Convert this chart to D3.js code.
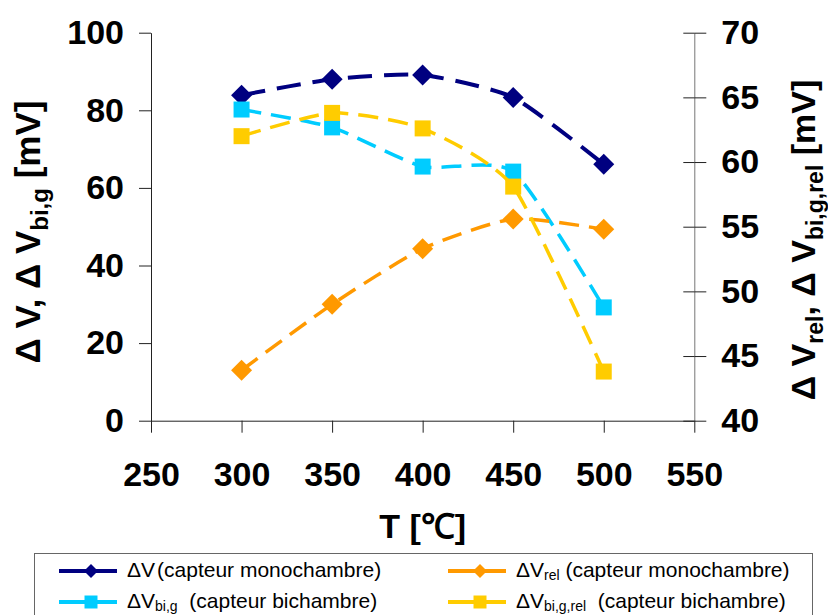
<!DOCTYPE html>
<html><head><meta charset="utf-8">
<script src="https://cdn.jsdelivr.net/npm/d3@7"></script>
<style>body{margin:0;background:#fff}svg{display:block}text{font-family:"Liberation Sans",Arial,sans-serif}</style>
</head><body><svg id="c" width="828" height="615"></svg>
<script>
const temps = [300, 350, 400, 450, 500];
const dV = [83.9, 88.0, 89.1, 83.3, 66.1];          // left axis
const dVbig = [80.2, 75.6, 65.5, 64.2, 29.2];       // left axis
const dVrel = [43.9, 49.0, 53.3, 55.6, 54.8];       // right axis
const dVbigrel = [62.0, 63.8, 62.6, 58.1, 43.8];    // right axis
const xTicks = [250, 300, 350, 400, 450, 500, 550];
const yLeftTicks = [0, 20, 40, 60, 80, 100];
const yRightTicks = [40, 45, 50, 55, 60, 65, 70];

const svg = d3.select("#c");
const x = d3.scaleLinear().domain([250, 550]).range([151, 694.3]);
const yL = d3.scaleLinear().domain([0, 100]).range([420.7, 32.7]);
const yR = d3.scaleLinear().domain([40, 70]).range([420.7, 32.7]);

const tickFont = g => g.selectAll("text").attr("font-size", 34).attr("font-weight", "bold").attr("fill", "#000")
  .attr("font-family", '"Liberation Sans",Arial,sans-serif');

// left axis
const gl = svg.append("g").attr("transform", `translate(${x(250)},0)`)
  .call(d3.axisLeft(yL).tickValues(yLeftTicks).tickSizeInner(12).tickSizeOuter(0).tickPadding(15));
gl.call(tickFont); gl.select(".domain").attr("stroke", "#222");
gl.selectAll(".tick line").attr("stroke", "#222");

// bottom axis
const gb = svg.append("g").attr("transform", `translate(0,${yL(0)})`)
  .call(d3.axisBottom(x).tickValues(xTicks).tickSizeInner(12).tickSizeOuter(0).tickPadding(29));
gb.call(tickFont); gb.select(".domain").attr("stroke", "#222");
gb.selectAll(".tick line").attr("stroke", "#222");

// right axis
const gr = svg.append("g").attr("transform", `translate(${x(550)},0)`)
  .call(d3.axisRight(yR).tickValues(yRightTicks).tickSizeInner(12).tickSizeOuter(0).tickPadding(15));
gr.call(tickFont); gr.select(".domain").attr("stroke", "#777");
gr.selectAll(".tick line").attr("stroke", "#222");
gr.selectAll(".tick").append("line").attr("x1", -11).attr("x2", 0).attr("stroke", "#222");

// series
const series = [
  {vals: dV, y: yL, color: "#000080", shape: "diamond", w: 4, dash: "24,12"},
  {vals: dVbig, y: yL, color: "#00CCFF", shape: "square", w: 3.5, dash: "20,10"},
  {vals: dVrel, y: yR, color: "#FF9900", shape: "diamond", w: 3.5, dash: "20,10"},
  {vals: dVbigrel, y: yR, color: "#FFCC00", shape: "square", w: 3.5, dash: "20,10"}
];
const line = d3.line().curve(d3.curveCardinal.tension(0.4));
const markerPath = (shape, s) => shape === "diamond"
  ? `M0,${-s}L${s},0L0,${s}L${-s},0Z`
  : `M${-s},${-s}H${s}V${s}H${-s}Z`;

series.forEach(sr => {
  const pts = temps.map((t, i) => [x(t), sr.y(sr.vals[i])]);
  svg.append("path").attr("d", line(pts)).attr("fill", "none").attr("stroke", sr.color)
    .attr("stroke-width", sr.w).attr("stroke-dasharray", sr.dash);
  svg.append("g").selectAll("path").data(pts).join("path")
    .attr("transform", d => `translate(${d[0]},${d[1]})`)
    .attr("d", markerPath(sr.shape, sr.shape === "diamond" ? 10.5 : 8))
    .attr("fill", sr.color);
});

// axis titles
const lt = svg.append("text").attr("transform", "translate(40,232) rotate(-90)")
  .attr("text-anchor", "middle").attr("font-size", 35).attr("font-weight", "bold");
lt.append("tspan").text("Δ V, Δ V");
lt.append("tspan").text("bi,g").attr("font-size", 24).attr("dy", 8);
lt.append("tspan").text(" [mV]").attr("dy", -8);

const rt = svg.append("text").attr("transform", "translate(815,240) rotate(-90)")
  .attr("text-anchor", "middle").attr("font-size", 34).attr("font-weight", "bold");
rt.append("tspan").text("Δ V");
rt.append("tspan").text("rel").attr("font-size", 23).attr("dy", 8);
rt.append("tspan").text(", Δ V").attr("dy", -8);
rt.append("tspan").text("bi,g,rel").attr("font-size", 23).attr("dy", 8);
rt.append("tspan").text(" [mV]").attr("dy", -8);

svg.append("text").attr("x", x(400)).attr("y", 538).attr("text-anchor", "middle")
  .attr("font-size", 34).attr("font-weight", "bold").text("T [℃]");

// legend
svg.append("rect").attr("x", 34.5).attr("y", 553.5).attr("width", 778).attr("height", 90)
  .attr("fill", "#fff").attr("stroke", "#666").attr("stroke-width", 1);
const legendItems = [
  {s: series[0], col: 0, row: 0, sub: "", rest: "(capteur monochambre)", gap: 2},
  {s: series[2], col: 1, row: 0, sub: "rel", rest: " (capteur monochambre)", gap: 0},
  {s: series[1], col: 0, row: 1, sub: "bi,g", rest: "  (capteur bichambre)", gap: 0},
  {s: series[3], col: 1, row: 1, sub: "bi,g,rel", rest: "  (capteur bichambre)", gap: 0}
];
legendItems.forEach(it => {
  const x0 = it.col === 0 ? 59 : 448, y0 = it.row === 0 ? 571 : 602;
  const g = svg.append("g");
  g.append("line").attr("x1", x0).attr("x2", x0 + 58).attr("y1", y0).attr("y2", y0)
    .attr("stroke", it.s.color).attr("stroke-width", 4);
  g.append("path").attr("transform", `translate(${x0 + 32},${y0})`)
    .attr("d", markerPath(it.s.shape, it.s.shape === "diamond" ? 7 : 6.5)).attr("fill", it.s.color);
  const t = g.append("text").attr("x", x0 + 68).attr("y", y0 + 6).attr("font-size", 21).attr("fill", "#000");
  t.append("tspan").text("ΔV");
  if (it.sub) {
    t.append("tspan").text(it.sub).attr("font-size", 14).attr("dy", 3);
    t.append("tspan").text(it.rest).attr("dy", -3).style("white-space", "pre");
  } else {
    t.append("tspan").text(it.rest).attr("dx", it.gap);
  }
});
</script></body></html>
